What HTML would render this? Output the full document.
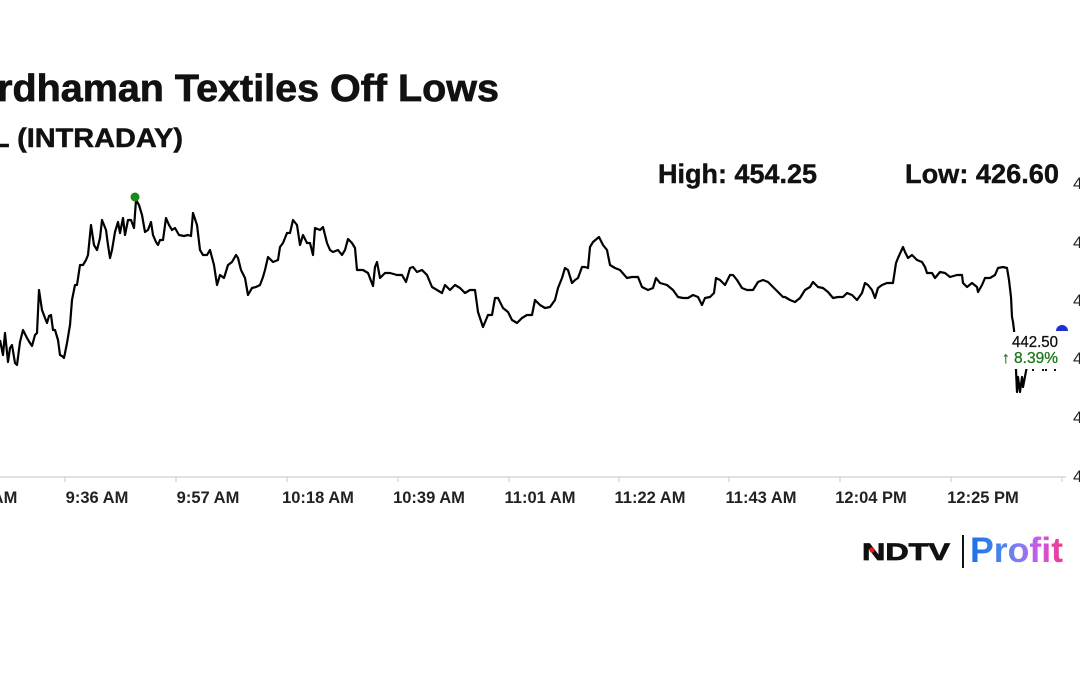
<!DOCTYPE html>
<html>
<head>
<meta charset="utf-8">
<style>
  html, body { margin: 0; padding: 0; background: #ffffff; }
  body { width: 1080px; height: 675px; overflow: hidden; }
  svg { display: block; }
  text { font-family: "Liberation Sans", Arial, sans-serif; }
</style>
</head>
<body>
<svg width="1080" height="675" viewBox="0 0 1080 675" xmlns="http://www.w3.org/2000/svg">
  <defs>
    <linearGradient id="pg" x1="970" y1="0" x2="1063" y2="0" gradientUnits="userSpaceOnUse">
      <stop offset="0" stop-color="#1a6fe6"/>
      <stop offset="0.35" stop-color="#4d86ee"/>
      <stop offset="0.55" stop-color="#8a7af0"/>
      <stop offset="0.75" stop-color="#d055e6"/>
      <stop offset="1" stop-color="#f03a86"/>
    </linearGradient>
  </defs>
  <rect width="1080" height="675" fill="#ffffff"/>

  <!-- Title -->
  <text x="-49" y="101" font-size="38" font-weight="bold" fill="#111" stroke="#111" stroke-width="0.7" textLength="548" lengthAdjust="spacingAndGlyphs">Vardhaman Textiles Off Lows</text>
  <text x="-45" y="147" font-size="27" font-weight="bold" fill="#111" stroke="#111" stroke-width="0.5" textLength="228" lengthAdjust="spacingAndGlyphs">VTL (INTRADAY)</text>

  <!-- High / Low -->
  <text x="658" y="183" font-size="27" font-weight="bold" fill="#111" stroke="#111" stroke-width="0.4" textLength="159" lengthAdjust="spacingAndGlyphs">High: 454.25</text>
  <text x="905" y="183" font-size="27" font-weight="bold" fill="#111" stroke="#111" stroke-width="0.4" textLength="154" lengthAdjust="spacingAndGlyphs">Low: 426.60</text>

  <!-- Y axis labels (mostly cut off) -->
  <g font-size="17" fill="#222">
    <text x="1073" y="189">455</text>
    <text x="1073" y="248">450</text>
    <text x="1073" y="306">445</text>
    <text x="1073" y="364">440</text>
    <text x="1073" y="423">435</text>
    <text x="1073" y="482">430</text>
  </g>

  <!-- X axis -->
  <line x1="0" y1="477" x2="1066" y2="477" stroke="#d0d0d0" stroke-width="1.2"/>
  <g stroke="#d0d0d0" stroke-width="1.2">
    <line x1="65" y1="477" x2="65" y2="482"/>
    <line x1="176" y1="477" x2="176" y2="482"/>
    <line x1="287" y1="477" x2="287" y2="482"/>
    <line x1="398" y1="477" x2="398" y2="482"/>
    <line x1="509" y1="477" x2="509" y2="482"/>
    <line x1="619" y1="477" x2="619" y2="482"/>
    <line x1="729" y1="477" x2="729" y2="482"/>
    <line x1="840" y1="477" x2="840" y2="482"/>
    <line x1="951" y1="477" x2="951" y2="482"/>
    <line x1="1062" y1="477" x2="1062" y2="482"/>
  </g>
  <g font-size="16.5" font-weight="bold" fill="#222" text-anchor="middle">
    <text x="-14" y="503">9:15 AM</text>
    <text x="97" y="503">9:36 AM</text>
    <text x="208" y="503">9:57 AM</text>
    <text x="318" y="503">10:18 AM</text>
    <text x="429" y="503">10:39 AM</text>
    <text x="540" y="503">11:01 AM</text>
    <text x="650" y="503">11:22 AM</text>
    <text x="761" y="503">11:43 AM</text>
    <text x="871" y="503">12:04 PM</text>
    <text x="983" y="503">12:25 PM</text>
  </g>

  <!-- Price line -->
  <polyline fill="none" stroke="#000" stroke-width="2.2" stroke-linejoin="round" points="
0,340 3,355 5,333 8,362 10,348 12,345 15,363 17,365 20,342 23,330 25,334 27,338 30,343 32,346 35,335 37,333 39,290 42,310 45,318 47,323 49,316 51,315 53,330 55,330 58,340 60,355 62,356 64,358 67,343 70,325 72,300 75,285 77,285 80,265 83,265 86,260 88,255 91,225 94,245 97,250 100,238 102,220 106,230 108,245 110,258 112,250 115,232 118,222 120,233 123,218 125,235 128,220 131,220 134,228 136,200 139,205 142,215 145,232 148,230 151,222 153,235 156,242 158,245 160,240 163,240 166,218 169,225 172,230 175,228 179,235 184,236 188,235 191,236 193,213 197,225 200,250 203,255 207,255 210,250 214,265 217,285 220,275 224,278 228,265 232,262 236,255 238,258 241,270 245,278 248,295 252,288 256,287 260,285 263,277 265,270 268,257 273,262 278,260 280,247 283,243 287,233 290,233 293,220 297,225 300,245 303,235 307,243 310,243 313,255 315,228 320,230 323,227 327,243 330,250 333,252 338,250 342,255 345,250 348,239 352,243 355,248 357,270 363,270 368,273 373,286 375,267 377,262 380,278 385,273 390,273 397,275 402,275 406,282 410,268 413,267 417,272 422,270 427,275 432,287 437,290 442,293 445,285 450,290 455,285 460,288 465,293 470,290 475,290 478,312 483,327 488,315 492,315 495,298 498,298 503,308 508,312 512,320 517,323 522,318 527,315 532,315 535,300 540,305 545,308 550,307 555,300 558,288 562,278 565,268 568,270 572,283 575,280 578,278 582,267 585,267 588,268 590,247 593,242 599,237 603,245 607,250 610,265 615,268 620,270 627,278 632,277 638,277 642,287 648,290 653,288 656,278 660,283 667,285 673,290 678,297 683,298 688,298 693,295 698,297 702,305 705,298 710,297 714,293 716,278 720,280 725,285 730,275 733,275 737,280 742,288 747,290 753,290 758,282 763,280 768,282 773,287 778,292 783,297 785,297 790,300 795,302 800,298 805,290 810,287 813,282 818,287 823,288 828,292 833,298 838,297 843,297 847,293 852,295 857,300 862,293 865,283 868,285 872,290 875,298 878,288 882,285 887,283 893,283 896,263 898,258 903,247 905,252 908,258 912,255 917,260 922,262 925,267 927,273 932,273 935,278 940,272 945,273 950,277 957,275 962,275 963,283 967,287 972,283 977,287 978,292 982,285 985,278 990,278 995,275 998,268 1003,267 1007,268 1009,280 1011,297 1012,317 1013,322 1014,330 1015,345 1016,370 1017,392 1018,377 1020,392 1022,377 1023,387 1027,366 1033,365 1043,365 1055,365 1060,365"/>

  <!-- High marker -->
  <circle cx="135" cy="197" r="4.5" fill="#1a8a1a"/>

  <!-- Last price marker -->
  <path d="M1056,331 A6,6 0 0 1 1068,331 Z" fill="#1f2fd6"/>

  <!-- Label box -->
  <rect x="1003" y="332" width="58" height="37" fill="#ffffff"/>
  <g fill="#111">
    <rect x="1032" y="369" width="2" height="2"/>
    <rect x="1042" y="369" width="2" height="2"/>
    <rect x="1045" y="369" width="2" height="2"/>
    <rect x="1054" y="369" width="2" height="2"/>
  </g>
  <text x="1012" y="347" font-size="16" fill="#111" stroke="#111" stroke-width="0.3" textLength="46" lengthAdjust="spacingAndGlyphs">442.50</text>
  <text x="1002" y="363" font-size="16" fill="#1a7a1a" stroke="#1a7a1a" stroke-width="0.3" textLength="56" lengthAdjust="spacingAndGlyphs">↑ 8.39%</text>

  <!-- Logo -->
  <text x="862" y="560" font-size="24" font-weight="bold" fill="#111" stroke="#111" stroke-width="0.8" textLength="88" lengthAdjust="spacingAndGlyphs">NDTV</text>
  <circle cx="872" cy="550" r="2.6" fill="#e01b1b"/>
  <rect x="962" y="535" width="2" height="33" fill="#111"/>
  <text x="970" y="562" font-size="35" font-weight="bold" fill="url(#pg)" textLength="93" lengthAdjust="spacingAndGlyphs">Profit</text>
</svg>
</body>
</html>
